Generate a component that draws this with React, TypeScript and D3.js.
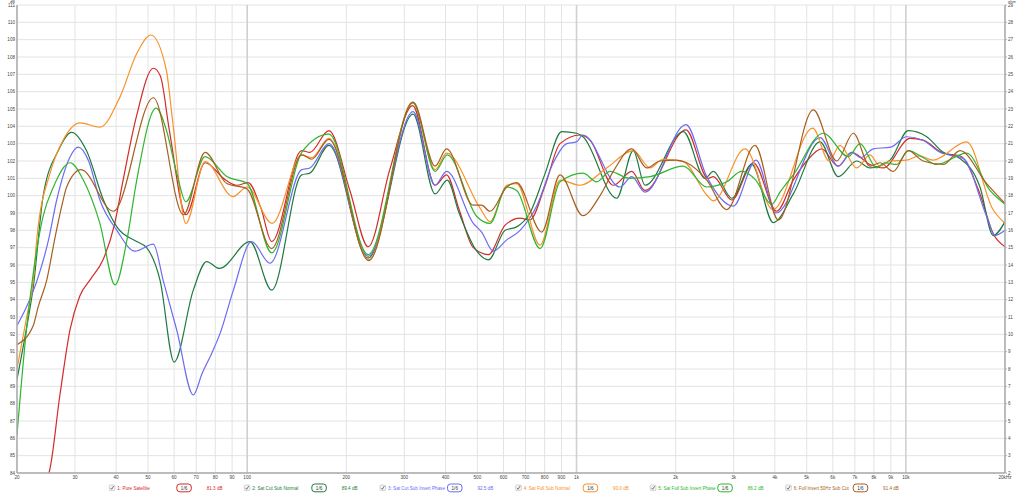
import React from 'react';
import * as d3 from 'd3';

const X_TICKS = [20, 30, 40, 50, 60, 70, 80, 90, 100, 200, 300, 400, 500, 600, 700, 800, 900, 1000, 2000, 3000, 4000, 5000, 6000, 7000, 8000, 9000, 10000, 20000];
const X_TICK_LABELS = ['20', '30', '40', '50', '60', '70', '80', '90', '100', '200', '300', '400', '500', '600', '700', '800', '900', '1k', '2k', '3k', '4k', '5k', '6k', '7k', '8k', '9k', '10k', '20kHz'];
const X_MAJOR = [100, 1000, 10000];
const DB_TICKS = [84, 85, 86, 87, 88, 89, 90, 91, 92, 93, 94, 95, 96, 97, 98, 99, 100, 101, 102, 103, 104, 105, 106, 107, 108, 109, 110, 111];
const OHM_TICKS = [2, 3, 4, 5, 6, 7, 8, 9, 10, 11, 12, 13, 14, 15, 16, 17, 18, 19, 20, 21, 22, 23, 24, 25, 26, 27, 28, 29];

const FREQ_RED = [20, 25, 27, 29, 31, 33.5, 36.5, 39.5, 42, 46, 51.9, 54.5, 58, 65.2, 74.5, 86, 93, 100.6, 110, 118.7, 146.4, 155, 177, 205, 233, 271, 318, 372, 403, 440, 486, 540, 607, 674, 722, 800, 891, 1025, 1100, 1293, 1471, 1614, 2150, 2508, 2602, 2960, 3443, 4054, 4552, 5000, 5552, 6222, 6849, 7780, 8540, 10294, 11275, 12992, 14600, 16790, 18424, 20000];
const DB_RED = [81.3, 84.0, 88.5, 92.3, 94.2, 95.2, 96.3, 98.3, 100.9, 104.5, 107.35, 106.9, 103.8, 98.9, 101.9, 100.9, 100.6, 100.75, 99.3, 97.35, 102.6, 102.5, 103.75, 100.3, 97.05, 101.5, 105.2, 100.6, 101.2, 99.2, 97.0, 96.6, 98.3, 98.7, 98.6, 100.5, 103.0, 103.5, 103.2, 100.6, 101.4, 100.3, 103.8, 101.0, 101.1, 99.75, 101.9, 99.1, 100.9, 102.0, 102.7, 101.7, 102.5, 101.8, 101.6, 103.3, 103.2, 102.45, 102.3, 100.1, 97.8, 97.05];

const FREQ_DKGREEN = [20, 21.4, 22.4, 24, 26.7, 29.3, 32.5, 36.6, 40.2, 46.2, 49.5, 54.4, 60, 68.6, 75.3, 82.3, 102, 118.7, 146.4, 155, 177, 233, 319, 372, 405, 440, 498, 540, 607, 658, 722, 800, 902, 1001, 1046, 1324, 1487, 1614, 2110, 2456, 2602, 2960, 3404, 3958, 4552, 5488, 6235, 7093, 7780, 8950, 10172, 11570, 12992, 14600, 16790, 18424, 20000];
const DB_DKGREEN = [89.4, 92.4, 94.7, 99.95, 102.6, 103.65, 102.6, 99.75, 98.2, 97.35, 97.0, 95.1, 90.4, 94.55, 96.2, 95.8, 97.35, 94.55, 101.2, 101.3, 102.9, 96.4, 104.7, 100.1, 100.9, 99.0, 96.8, 96.3, 98.0, 98.2, 99.0, 101.2, 103.7, 103.6, 103.4, 99.85, 102.6, 100.6, 103.7, 101.0, 101.4, 99.85, 101.8, 98.45, 100.1, 103.1, 101.1, 102.0, 101.6, 102.05, 103.75, 103.4, 102.5, 102.15, 100.5, 97.7, 98.5];

const FREQ_BLUE = [20, 21.4, 23, 24.9, 26.4, 29.0, 30.7, 33, 35.7, 40.2, 45.6, 51.9, 55.6, 61.1, 68.6, 73, 78, 82.9, 90.8, 103.2, 117.3, 146.4, 155, 177, 233, 319, 372, 403, 486, 515, 559, 614, 674, 757, 850, 934, 1000, 1046, 1355, 1471, 1614, 2150, 2485, 2992, 3508, 4034, 5488, 6235, 6849, 7300, 7963, 9000, 10060, 11275, 12696, 14938, 17594, 18646, 20000];
const DB_BLUE = [92.5, 93.6, 95.1, 97.4, 99.75, 102.25, 102.8, 102.0, 99.75, 98.0, 96.8, 97.2, 95.1, 92.25, 88.5, 89.75, 90.9, 92.1, 94.55, 97.35, 96.1, 101.5, 101.6, 103.0, 96.5, 104.85, 100.6, 101.4, 98.4, 97.9, 96.8, 97.45, 98.0, 99.4, 101.9, 103.0, 103.1, 103.5, 100.5, 101.1, 100.2, 104.1, 101.1, 99.4, 102.05, 99.0, 103.35, 101.7, 102.5, 102.2, 102.7, 102.8, 103.4, 103.2, 102.5, 102.15, 98.8, 97.7, 98.0];

const FREQ_ORANGE = [20, 21.4, 22.4, 23, 25.2, 27.6, 31.1, 35.7, 41.1, 46.2, 51.0, 56.8, 59.3, 65.1, 74.5, 90.6, 100, 119, 146.4, 157, 177, 234, 318, 372, 403, 509, 546, 614, 658, 775, 891, 1025, 1235, 1487, 1672, 1830, 2110, 2485, 2602, 3248, 3950, 5215, 5844, 6310, 7093, 7780, 8344, 8950, 10060, 11000, 12090, 15298, 18386, 20000];
const DB_ORANGE = [90.0, 93.0, 95.1, 97.6, 101.3, 103.2, 104.2, 103.95, 105.7, 108.2, 109.27, 107.25, 104.4, 98.4, 101.96, 99.95, 100.5, 98.4, 102.35, 102.2, 103.3, 96.3, 105.4, 101.5, 102.45, 99.3, 98.5, 100.6, 100.7, 97.15, 100.9, 100.6, 101.6, 102.6, 101.6, 102.1, 101.96, 100.04, 99.7, 102.7, 99.2, 103.9, 102.0, 102.9, 101.6, 102.35, 101.7, 102.0, 102.05, 102.3, 102.05, 103.1, 99.2, 98.4];

const FREQ_GREEN = [20, 21.4, 22.4, 24, 25.8, 29.0, 31.8, 35.7, 39.7, 43.1, 46.2, 52.9, 56.8, 61.1, 65.1, 74.5, 86.7, 100, 118.7, 146.4, 177, 233, 319, 372, 405, 498, 546, 614, 658, 775, 891, 1046, 1152, 1264, 1450, 1672, 2110, 2485, 2858, 3173, 3500, 3914, 4148, 4552, 5616, 6688, 7258, 8155, 8600, 9382, 10172, 11275, 12406, 15298, 18004, 20000];
const DB_GREEN = [86.2, 92.4, 95.5, 98.8, 100.5, 101.9, 100.9, 98.4, 94.85, 97.4, 100.9, 105.05, 103.8, 101.3, 99.65, 102.25, 101.1, 100.7, 96.7, 102.5, 103.55, 96.6, 105.35, 101.4, 102.35, 98.8, 98.4, 100.5, 100.3, 96.95, 100.8, 101.3, 100.8, 101.4, 101.0, 101.1, 101.7, 100.5, 100.8, 101.4, 100.9, 99.5, 100.2, 101.2, 103.6, 102.25, 103.0, 101.6, 101.9, 101.8, 102.6, 102.2, 101.8, 102.45, 100.3, 99.5];

const FREQ_BROWN = [20, 22.4, 23.2, 24.6, 26.1, 27.5, 28.3, 31.3, 39.2, 51.9, 64.0, 74.5, 86.7, 99.7, 118.7, 146.4, 157, 177, 234, 319, 372, 403, 486, 515, 546, 614, 658, 784, 891, 1045, 1179, 1293, 1471, 1634, 1793, 2015, 2160, 2485, 2858, 3483, 4099, 5236, 6166, 6925, 7780, 8344, 9161, 10172, 11275, 12992, 14600, 17594, 20000];
const DB_BROWN = [91.4, 92.5, 93.6, 95.1, 97.6, 99.6, 100.5, 101.5, 99.1, 105.65, 98.9, 102.5, 100.7, 100.4, 96.95, 102.35, 102.1, 103.25, 96.25, 105.4, 101.7, 102.7, 99.45, 99.45, 99.1, 100.5, 100.75, 97.9, 101.2, 98.85, 100.0, 101.4, 102.7, 101.6, 102.0, 102.05, 101.9, 100.9, 99.2, 102.9, 98.6, 104.95, 102.0, 103.6, 101.7, 101.9, 101.4, 102.6, 102.0, 101.8, 102.6, 100.7, 99.55];

const SERIES_NAMES = ['1: Pure Satellite', '2: Sat Cut Sub Normal', '3: Sat Cut Sub Invert Phase', '4: Sat Full Sub Normal', '5: Sat Full Sub Invert Phase', '6: Full Invert 50Hz Sub Cut'];
const SERIES_COLORS = ['#d42a2a', '#1f7a41', '#6c6cf2', '#f7922c', '#2fb52f', '#a65f1f'];
const SERIES_LEGEND_DB = ['81.3 dB', '89.4 dB', '92.5 dB', '90.0 dB', '86.2 dB', '91.4 dB'];
const SERIES_FREQS = [FREQ_RED, FREQ_DKGREEN, FREQ_BLUE, FREQ_ORANGE, FREQ_GREEN, FREQ_BROWN];
const SERIES_DBS = [DB_RED, DB_DKGREEN, DB_BLUE, DB_ORANGE, DB_GREEN, DB_BROWN];

const W = 1024;
const H = 494;
const L = 17, R = 1005, T = 5, B = 473;
const FONT = '"Liberation Sans", Arial, sans-serif';
const FS = 4.6;

export default function App() {
  const x = d3.scaleLog().domain([20, 20000]).range([L, R]);
  const y = d3.scaleLinear().domain([84, 111]).range([B, T]);
  const yR = d3.scaleLinear().domain([2, 29]).range([B, T]);
  const line = d3
    .line<[number, number]>()
    .x((d) => x(d[0]))
    .y((d) => y(d[1]))
    .curve(d3.curveMonotoneX);

  const legendX = [109.3, 244.3, 380, 515.7, 650.3, 785.7];

  return (
    <svg width={W} height={H} style={{ position: 'absolute', left: 0, top: 0, background: '#fff' }} fontFamily={FONT}>
      <rect x={0} y={0} width={W} height={H} fill="#fff" />
      <defs>
        <clipPath id="plot">
          <rect x={L} y={T} width={R - L} height={B - T} />
        </clipPath>
      </defs>
      {DB_TICKS.map((v) => (
        <line key={'h' + v} x1={L} x2={R} y1={y(v)} y2={y(v)} stroke="#e3e3e3" strokeWidth={1} />
      ))}
      {X_TICKS.map((f) => (
        <line
          key={'v' + f}
          x1={x(f)}
          x2={x(f)}
          y1={T}
          y2={B}
          stroke={X_MAJOR.includes(f) ? '#d0d0d0' : '#e3e3e3'}
          strokeWidth={X_MAJOR.includes(f) ? 1.6 : 1}
        />
      ))}
      <g clipPath="url(#plot)">
        {SERIES_FREQS.map((fr, i) => {
          const pts = fr.map((f, j) => [f, SERIES_DBS[i][j]] as [number, number]);
          return <path key={'s' + i} d={line(pts) || ''} fill="none" stroke={SERIES_COLORS[i]} strokeWidth={1.2} />;
        })}
      </g>
      <line x1={L} x2={L} y1={T} y2={B} stroke="#aaaaaa" strokeWidth={1.5} />
      <line x1={R} x2={R} y1={T} y2={B} stroke="#aaaaaa" strokeWidth={1.5} />
      <line x1={L} x2={R} y1={B} y2={B} stroke="#aaaaaa" strokeWidth={1.5} />
      {DB_TICKS.map((v) => (
        <text key={'l' + v} x={15} y={y(v) + 1.6} fontSize={FS} fill="#444" textAnchor="end">
          {v}
        </text>
      ))}
      <text x={15} y={3} fontSize={FS - 0.6} fill="#444" textAnchor="end">dB</text>
      {OHM_TICKS.map((v) => (
        <g key={'r' + v}>
          <line x1={R} x2={R + 2} y1={yR(v)} y2={yR(v)} stroke="#aaaaaa" strokeWidth={0.8} />
          <text x={1008} y={yR(v) + 1.6} fontSize={FS} fill="#444">
            {v}
          </text>
        </g>
      ))}
      <text x={1008} y={3} fontSize={FS - 0.6} fill="#444">ohm</text>
      {X_TICKS.map((f, i) => (
        <text key={'x' + f} x={x(f)} y={478.5} fontSize={FS} fill="#444" textAnchor="middle">
          {X_TICK_LABELS[i]}
        </text>
      ))}
      {SERIES_NAMES.map((name, i) => {
        const bx = legendX[i];
        const c = SERIES_COLORS[i];
        return (
          <g key={'lg' + i}>
            <rect x={bx} y={485} width={5.6} height={5.6} rx={1} fill="#f6f6f6" stroke="#b8b8b8" strokeWidth={0.6} />
            <path d={`M${bx + 1.3},${487.9} L${bx + 2.4},${489.3} L${bx + 4.4},${486}`} fill="none" stroke="#444" strokeWidth={0.7} />
            <text x={bx + 8} y={489.6} fontSize={FS} fill={c}>
              {name}
            </text>
            <rect x={bx + 67.5} y={484} width={14.5} height={7.8} rx={3} fill="#fff" stroke={c} strokeWidth={1} />
            <text x={bx + 74.75} y={489.6} fontSize={FS} fill="#333" textAnchor="middle">
              1/6
            </text>
            <text x={bx + 97.4} y={489.6} fontSize={FS} fill={c}>
              {SERIES_LEGEND_DB[i]}
            </text>
          </g>
        );
      })}
    </svg>
  );
}
